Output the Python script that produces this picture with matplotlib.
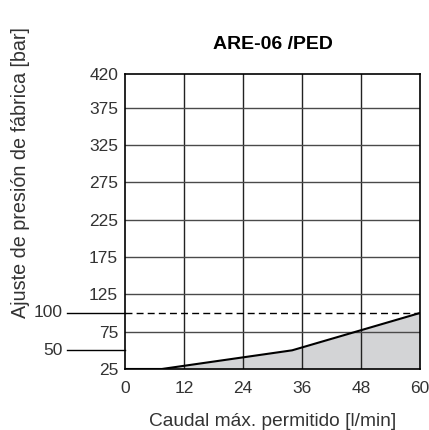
import matplotlib

matplotlib.use("Agg")
import matplotlib.pyplot as plt

# Curve: flow [l/min] vs factory pressure setting [bar]
flow = [0, 7.5, 34, 60]
pressure = [25, 25, 50, 100]

x_ticks = [0, 12, 24, 36, 48, 60]
y_ticks = [25, 75, 125, 175, 225, 275, 325, 375, 420]
y_marks = [100, 50]  # labelled outside with leader lines

title = "ARE-06 /PED"
x_label = "Caudal máx. permitido [l/min]"
y_label = "Ajuste de presión de fábrica [bar]"

plt.rcParams["font.family"] = ["Liberation Sans", "DejaVu Sans"]
text_color = "#333333"

fig = plt.figure(figsize=(4.29, 4.30), dpi=100)
ax = fig.add_axes([0.2914, 0.1419, 0.6876, 0.6860])

ax.fill_between(flow, pressure, 25, color="#d3d4d6", zorder=1, linewidth=0)
ax.plot(flow, pressure, color="black", linewidth=1.5, zorder=4)

ax.set_xlim(0, 60)
ax.set_ylim(25, 420)
ax.set_xticks(x_ticks)
ax.set_yticks(y_ticks)
ax.tick_params(length=0, labelsize=12.5, labelcolor=text_color)
ax.tick_params(axis="y", pad=5)
ax.tick_params(axis="x", pad=9)

for v in x_ticks[1:-1]:
    ax.axvline(v, color="#222222", linewidth=1.0, zorder=2)
for v in y_ticks[1:-1]:
    ax.axhline(v, color="#4a4a4a", linewidth=1.0, zorder=2)

for s in ax.spines.values():
    s.set_color("black")
    s.set_linewidth(1.2)
    s.set_zorder(5)

# leader lines for 100 and 50
trans = ax.get_yaxis_transform()
for v in y_marks:
    ax.plot([-0.197, 0], [v, v], color="black", linewidth=1.0,
            transform=trans, clip_on=False, zorder=3)
    ax.text(-0.212, v, str(v), transform=trans, ha="right", va="center",
            fontsize=12.5, color=text_color)
ax.plot([0, 1], [y_marks[0]] * 2, color="black", linewidth=1.0,
        linestyle=(0, (5, 3)), transform=trans, zorder=3)

ax.set_title(title, fontsize=14, fontweight="bold", color="black", pad=18)
ax.set_xlabel(x_label, fontsize=13.8, color=text_color, labelpad=12)
fig.text(0.047, 0.598, y_label, rotation=90, ha="center", va="center",
         fontsize=14.2, color=text_color)

fig.savefig("out.png", dpi=100)
